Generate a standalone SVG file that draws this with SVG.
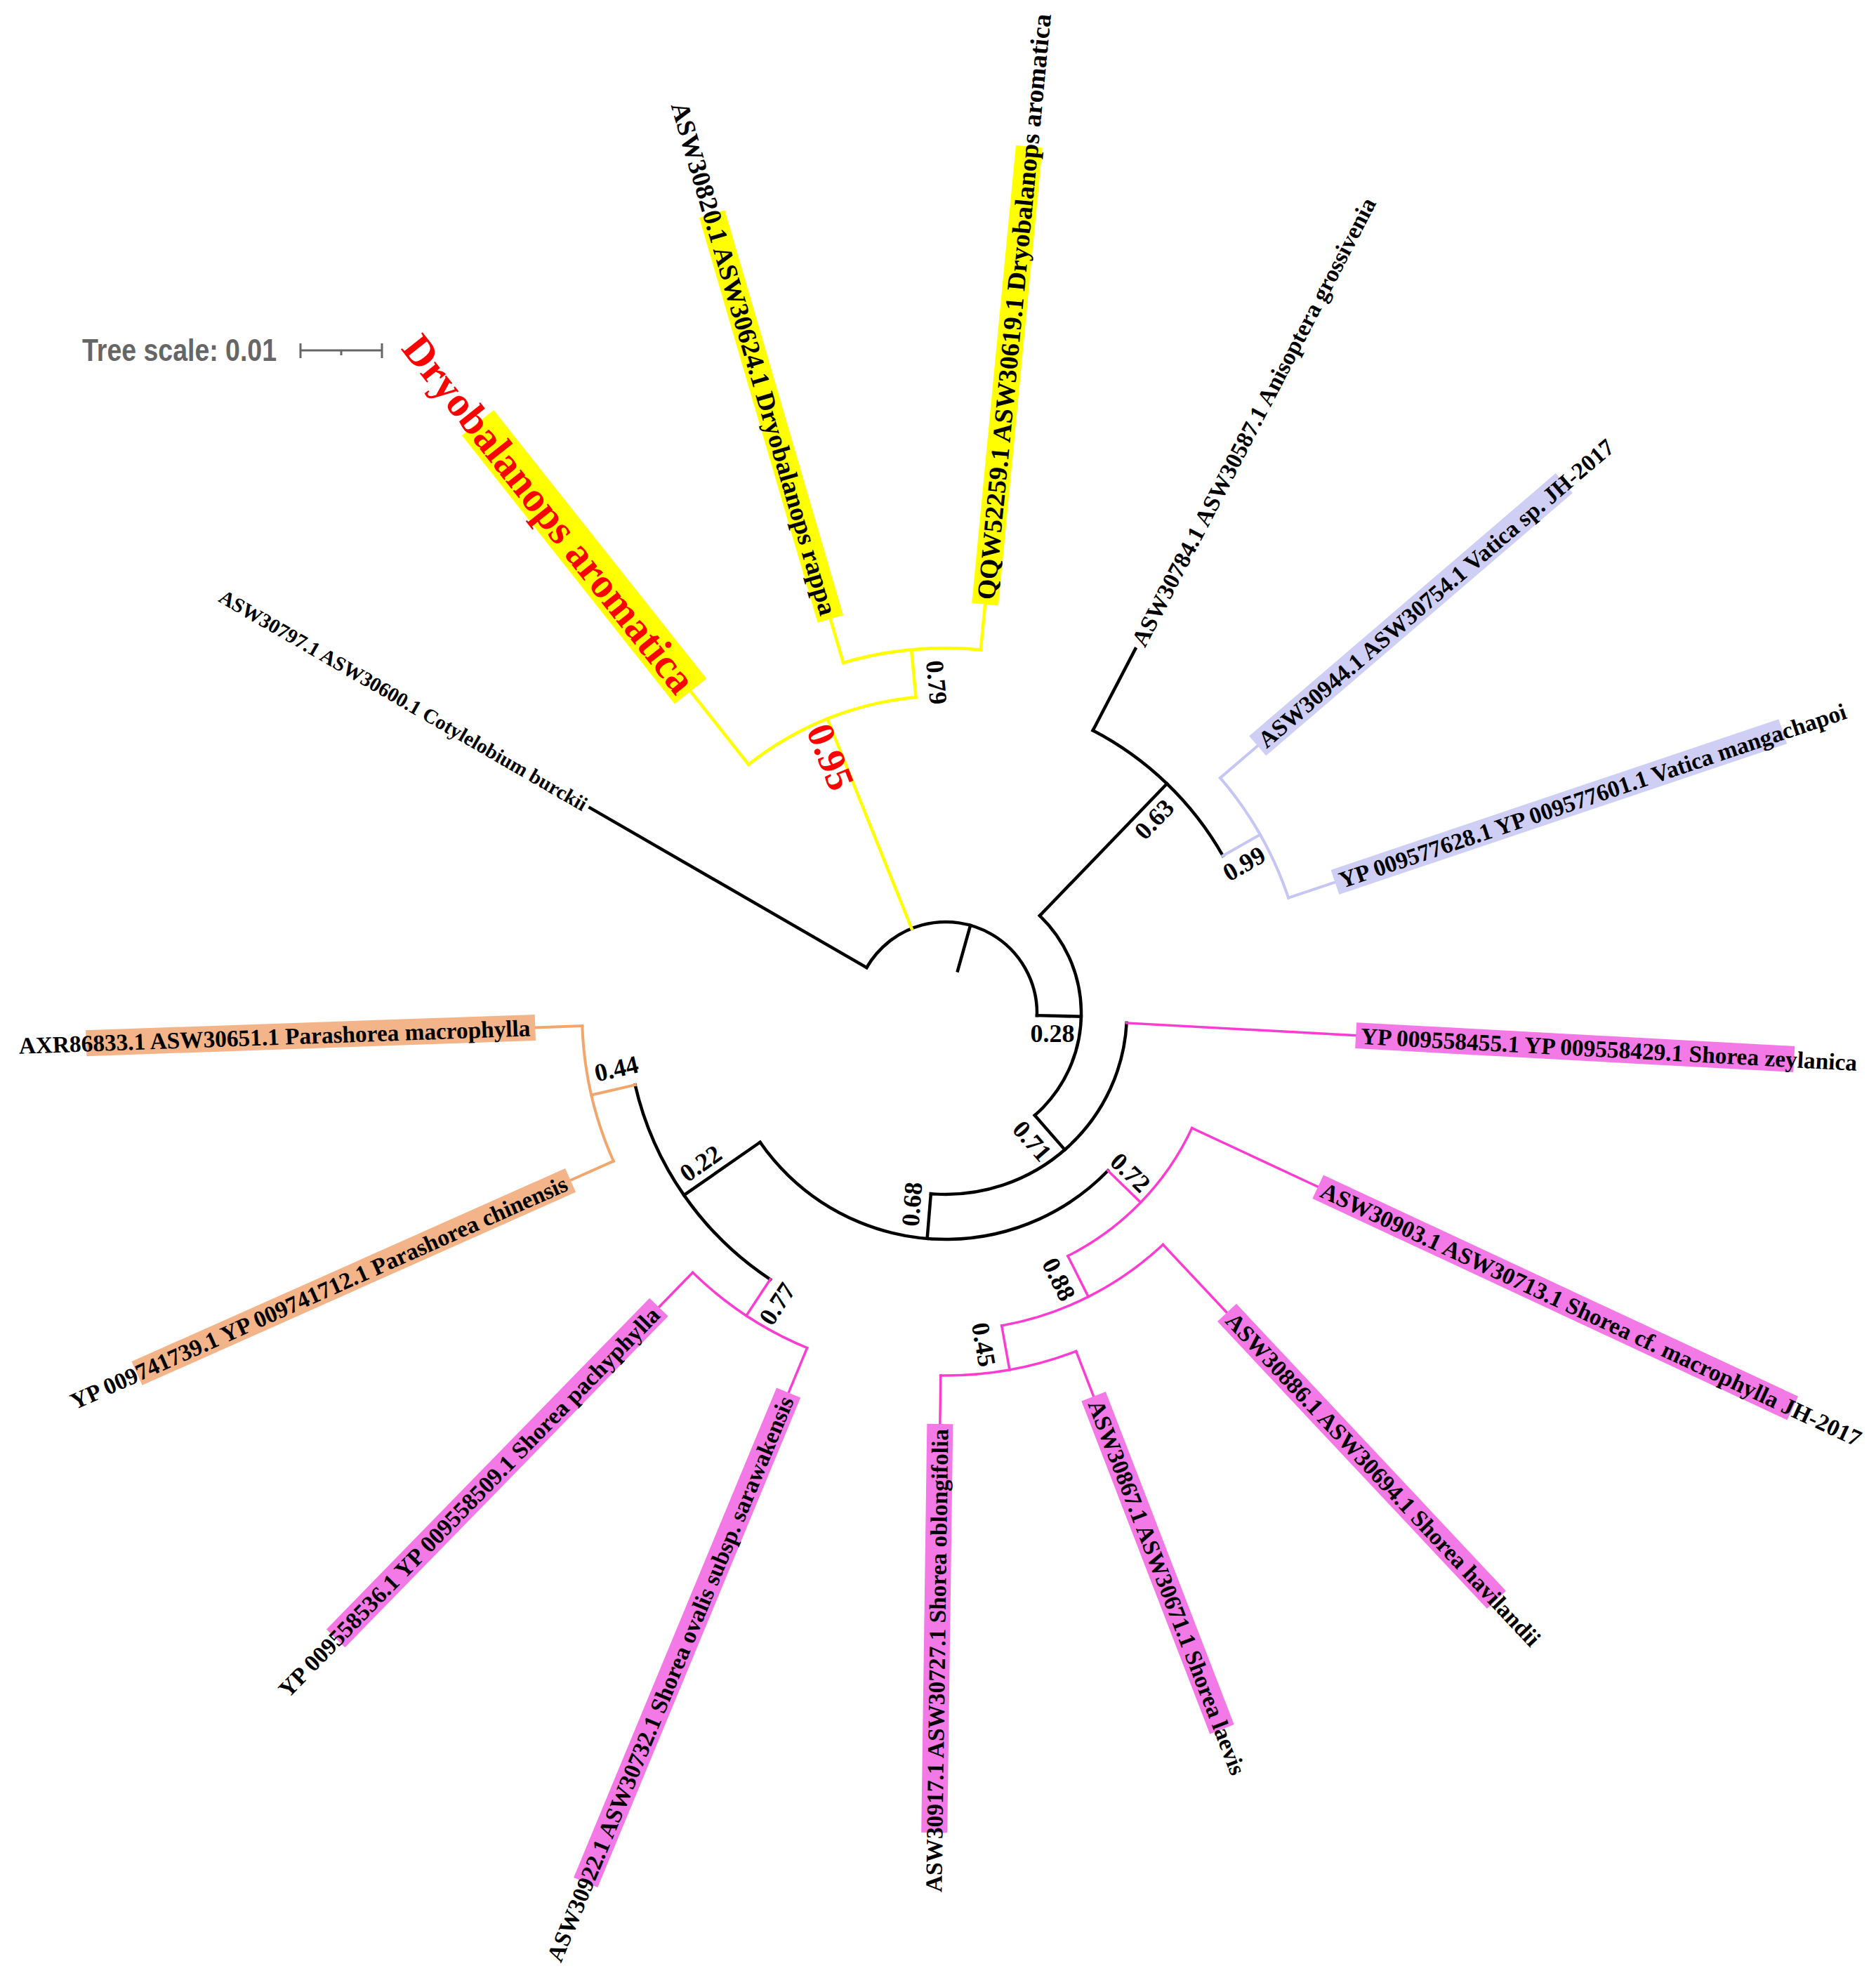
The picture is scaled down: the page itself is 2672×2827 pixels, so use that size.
<svg xmlns="http://www.w3.org/2000/svg" width="2672" height="2827" viewBox="0 0 2672 2827">
<style>
.b{stroke:#000;stroke-width:4.5;fill:none;stroke-linecap:square}
.y{stroke:#FFFF00;stroke-width:4.5;fill:none;stroke-linecap:square}
.p{stroke:#FF3CD2;stroke-width:3.5;fill:none;stroke-linecap:square}
.v{stroke:#C6C6F5;stroke-width:4;fill:none;stroke-linecap:square}
.o{stroke:#F2A66C;stroke-width:4;fill:none;stroke-linecap:square}
.hy{fill:#FFFF00}.hp{fill:#F37AE6}.hv{fill:#CFCFF5}.ho{fill:#F2B488}
.lab{font-family:"Liberation Serif","Times New Roman",serif;font-weight:bold;font-size:33.5px;fill:#000}
.bs{font-family:"Liberation Serif","Times New Roman",serif;font-weight:bold;font-size:36px;fill:#000;text-anchor:middle;dominant-baseline:central}
</style>
<rect width="2672" height="2827" fill="#fff"/>
<g id="connectors">
<line class="b" x1="1410" y1="1443" x2="1477" y2="1443" transform="rotate(285.7 1347 1443)"/>
<circle class="b" cx="1347" cy="1443" r="130" pathLength="360" stroke-dasharray="151.4 720" transform="rotate(210 1347 1443)"/>
<line class="b" x1="1477" y1="1443" x2="1932" y2="1443" transform="rotate(210 1347 1443)"/>
<line class="y" x1="1477" y1="1443" x2="1799" y2="1443" transform="rotate(248.1 1347 1443)"/>
<circle class="y" cx="1347" cy="1443" r="452" pathLength="360" stroke-dasharray="33 720" transform="rotate(231.6 1347 1443)"/>
<line class="y" x1="1799" y1="1443" x2="1932" y2="1443" transform="rotate(231.6 1347 1443)"/>
<line class="y" x1="1799" y1="1443" x2="1867" y2="1443" transform="rotate(264.6 1347 1443)"/>
<circle class="y" cx="1347" cy="1443" r="520" pathLength="360" stroke-dasharray="21.8 720" transform="rotate(253.7 1347 1443)"/>
<line class="y" x1="1867" y1="1443" x2="1932" y2="1443" transform="rotate(253.7 1347 1443)"/>
<line class="y" x1="1867" y1="1443" x2="1932" y2="1443" transform="rotate(275.5 1347 1443)"/>
<line class="b" x1="1477" y1="1443" x2="1540" y2="1443" transform="rotate(1.4 1347 1443)"/>
<circle class="b" cx="1347" cy="1443" r="193" pathLength="360" stroke-dasharray="94.95 720" transform="rotate(313.95 1347 1443)"/>
<line class="b" x1="1540" y1="1443" x2="1801" y2="1443" transform="rotate(313.95 1347 1443)"/>
<circle class="b" cx="1347" cy="1443" r="454" pathLength="360" stroke-dasharray="32.9 720" transform="rotate(297.5 1347 1443)"/>
<line class="b" x1="1801" y1="1443" x2="1932" y2="1443" transform="rotate(297.5 1347 1443)"/>
<line class="v" x1="1801" y1="1443" x2="1862" y2="1443" transform="rotate(330.4 1347 1443)"/>
<circle class="v" cx="1347" cy="1443" r="515" pathLength="360" stroke-dasharray="22 720" transform="rotate(319.4 1347 1443)"/>
<line class="v" x1="1862" y1="1443" x2="1932" y2="1443" transform="rotate(319.4 1347 1443)"/>
<line class="v" x1="1862" y1="1443" x2="1932" y2="1443" transform="rotate(341.4 1347 1443)"/>
<line class="b" x1="1540" y1="1443" x2="1605" y2="1443" transform="rotate(48.9 1347 1443)"/>
<circle class="b" cx="1347" cy="1443" r="258" pathLength="360" stroke-dasharray="91.6 720" transform="rotate(3.1 1347 1443)"/>
<line class="p" x1="1605" y1="1443" x2="1932" y2="1443" transform="rotate(3.1 1347 1443)"/>
<line class="b" x1="1605" y1="1443" x2="1669" y2="1443" transform="rotate(94.7 1347 1443)"/>
<circle class="b" cx="1347" cy="1443" r="322" pathLength="360" stroke-dasharray="101.05 720" transform="rotate(44.15 1347 1443)"/>
<line class="p" x1="1669" y1="1443" x2="1734" y2="1443" transform="rotate(44.15 1347 1443)"/>
<circle class="p" cx="1347" cy="1443" r="387" pathLength="360" stroke-dasharray="38.3 720" transform="rotate(25 1347 1443)"/>
<line class="p" x1="1734" y1="1443" x2="1932" y2="1443" transform="rotate(25 1347 1443)"/>
<line class="p" x1="1734" y1="1443" x2="1799" y2="1443" transform="rotate(63.3 1347 1443)"/>
<circle class="p" cx="1347" cy="1443" r="452" pathLength="360" stroke-dasharray="33.05 720" transform="rotate(46.8 1347 1443)"/>
<line class="p" x1="1799" y1="1443" x2="1932" y2="1443" transform="rotate(46.8 1347 1443)"/>
<line class="p" x1="1799" y1="1443" x2="1863" y2="1443" transform="rotate(79.85 1347 1443)"/>
<circle class="p" cx="1347" cy="1443" r="516" pathLength="360" stroke-dasharray="21.9 720" transform="rotate(68.9 1347 1443)"/>
<line class="p" x1="1863" y1="1443" x2="1932" y2="1443" transform="rotate(68.9 1347 1443)"/>
<line class="p" x1="1863" y1="1443" x2="1932" y2="1443" transform="rotate(90.8 1347 1443)"/>
<line class="b" x1="1669" y1="1443" x2="1801" y2="1443" transform="rotate(145.2 1347 1443)"/>
<circle class="b" cx="1347" cy="1443" r="454" pathLength="360" stroke-dasharray="43.6 720" transform="rotate(123.4 1347 1443)"/>
<line class="p" x1="1801" y1="1443" x2="1863" y2="1443" transform="rotate(123.4 1347 1443)"/>
<circle class="p" cx="1347" cy="1443" r="516" pathLength="360" stroke-dasharray="21.8 720" transform="rotate(112.5 1347 1443)"/>
<line class="p" x1="1863" y1="1443" x2="1932" y2="1443" transform="rotate(112.5 1347 1443)"/>
<line class="p" x1="1863" y1="1443" x2="1932" y2="1443" transform="rotate(134.3 1347 1443)"/>
<line class="o" x1="1801" y1="1443" x2="1865" y2="1443" transform="rotate(167 1347 1443)"/>
<circle class="o" cx="1347" cy="1443" r="518" pathLength="360" stroke-dasharray="22 720" transform="rotate(156 1347 1443)"/>
<line class="o" x1="1865" y1="1443" x2="1932" y2="1443" transform="rotate(156 1347 1443)"/>
<line class="o" x1="1865" y1="1443" x2="1932" y2="1443" transform="rotate(178 1347 1443)"/>
</g>
<g id="leaf-cotylelobium" transform="rotate(30 1347 1443)">
<text class="lab" x="155" y="1443" dy="0.35em" style="font-size:29px" textLength="600" lengthAdjust="spacingAndGlyphs">ASW30797.1 ASW30600.1 Cotylelobium burckii</text>
</g>
<g id="leaf-dryobalanops-aromatica-red" transform="rotate(51.6 1347 1443)">
<rect class="hy" x="274" y="1414" width="488" height="58"/>
<text class="lab" x="123" y="1443" dy="0.35em" style="font-size:60px;fill:#FF0000" textLength="632" lengthAdjust="spacingAndGlyphs">Dryobalanops aromatica</text>
</g>
<g id="leaf-rappa" transform="rotate(73.7 1347 1443)">
<rect class="hy" x="161" y="1424" width="601" height="38"/>
<text class="lab" x="-4" y="1443" dy="0.35em" style="font-size:37px" textLength="759" lengthAdjust="spacingAndGlyphs">ASW30820.1 ASW30624.1 Dryobalanops rappa</text>
</g>
<g id="leaf-qqw" transform="rotate(275.5 1347 1443)">
<rect class="hy" x="1932" y="1424" width="655" height="38"/>
<text class="lab" x="1939" y="1443" dy="0.35em" style="font-size:37px" textLength="838" lengthAdjust="spacingAndGlyphs">QQW52259.1 ASW30619.1 Dryobalanops aromatica</text>
</g>
<g id="leaf-anisoptera" transform="rotate(297.5 1347 1443)">
<text class="lab" x="1939" y="1443" dy="0.35em" textLength="715" lengthAdjust="spacingAndGlyphs">ASW30784.1 ASW30587.1 Anisoptera grossivenia</text>
</g>
<g id="leaf-vatica-sp" transform="rotate(319.4 1347 1443)">
<rect class="hv" x="1932" y="1424.5" width="575" height="37"/>
<text class="lab" x="1939" y="1443" dy="0.35em" textLength="655" lengthAdjust="spacingAndGlyphs">ASW30944.1 ASW30754.1 Vatica sp. JH-2017</text>
</g>
<g id="leaf-vatica-mangachapoi" transform="rotate(341.4 1347 1443)">
<rect class="hv" x="1932" y="1424.5" width="673" height="37"/>
<text class="lab" x="1939" y="1443" dy="0.35em" textLength="760" lengthAdjust="spacingAndGlyphs">YP 009577628.1 YP 009577601.1 Vatica mangachapoi</text>
</g>
<g id="leaf-zeylanica" transform="rotate(3.1 1347 1443)">
<rect class="hp" x="1932" y="1424.5" width="625" height="37"/>
<text class="lab" x="1939" y="1443" dy="0.35em" textLength="708" lengthAdjust="spacingAndGlyphs">YP 009558455.1 YP 009558429.1 Shorea zeylanica</text>
</g>
<g id="leaf-cf-macrophylla" transform="rotate(25 1347 1443)">
<rect class="hp" x="1932" y="1424.5" width="746" height="37"/>
<text class="lab" x="1939" y="1443" dy="0.35em" textLength="845" lengthAdjust="spacingAndGlyphs">ASW30903.1 ASW30713.1 Shorea cf. macrophylla JH-2017</text>
</g>
<g id="leaf-havilandii" transform="rotate(46.8 1347 1443)">
<rect class="hp" x="1932" y="1424.5" width="561" height="37"/>
<text class="lab" x="1939" y="1443" dy="0.35em" textLength="637" lengthAdjust="spacingAndGlyphs">ASW30886.1 ASW30694.1 Shorea havilandii</text>
</g>
<g id="leaf-laevis" transform="rotate(68.9 1347 1443)">
<rect class="hp" x="1932" y="1424.5" width="508" height="37"/>
<text class="lab" x="1939" y="1443" dy="0.35em" textLength="569" lengthAdjust="spacingAndGlyphs">ASW30867.1 ASW30671.1 Shorea laevis</text>
</g>
<g id="leaf-oblongifolia" transform="rotate(-89.2 1347 1443)">
<rect class="hp" x="180" y="1424.5" width="582" height="37"/>
<text class="lab" x="95" y="1443" dy="0.35em" textLength="660" lengthAdjust="spacingAndGlyphs">ASW30917.1 ASW30727.1 Shorea oblongifolia</text>
</g>
<g id="leaf-ovalis" transform="rotate(-67.5 1347 1443)">
<rect class="hp" x="7" y="1424.5" width="755" height="37"/>
<text class="lab" x="-113" y="1443" dy="0.35em" textLength="868" lengthAdjust="spacingAndGlyphs">ASW30922.1 ASW30732.1 Shorea ovalis subsp. sarawakensis</text>
</g>
<g id="leaf-pachyphylla" transform="rotate(-45.7 1347 1443)">
<rect class="hp" x="103" y="1424.5" width="659" height="37"/>
<text class="lab" x="-6" y="1443" dy="0.35em" textLength="761" lengthAdjust="spacingAndGlyphs">YP 009558536.1 YP 009558509.1 Shorea pachyphylla</text>
</g>
<g id="leaf-parashorea-chinensis" transform="rotate(-24 1347 1443)">
<rect class="ho" x="86" y="1424.5" width="676" height="37"/>
<text class="lab" x="-16" y="1443" dy="0.35em" textLength="771" lengthAdjust="spacingAndGlyphs">YP 009741739.1 YP 009741712.1 Parashorea chinensis</text>
</g>
<g id="leaf-parashorea-macrophylla" transform="rotate(-2 1347 1443)">
<rect class="ho" x="122" y="1424.5" width="640" height="37"/>
<text class="lab" x="26" y="1443" dy="0.35em" textLength="729" lengthAdjust="spacingAndGlyphs">AXR86833.1 ASW30651.1 Parashorea macrophylla</text>
</g>
<g id="node-095"><text class="bs" transform="translate(1183 1078) rotate(68.1)" style="font-size:55px;fill:#FF0000">0.95</text></g>
<g id="node-079"><text class="bs" transform="translate(1334 972) rotate(84.6)">0.79</text></g>
<g id="node-028"><text class="bs" transform="translate(1499 1472)">0.28</text></g>
<g id="node-071"><text class="bs" transform="translate(1470 1625) rotate(48.9)">0.71</text></g>
<g id="node-068"><text class="bs" transform="translate(1299 1715) rotate(-85.3)">0.68</text></g>
<g id="node-072"><text class="bs" transform="translate(1610 1670) rotate(44.15)">0.72</text></g>
<g id="node-088"><text class="bs" transform="translate(1508 1822) rotate(63.3)">0.88</text></g>
<g id="node-045"><text class="bs" transform="translate(1401 1915) rotate(79.85)">0.45</text></g>
<g id="node-063"><text class="bs" transform="translate(1644 1167) rotate(-46)">0.63</text></g>
<g id="node-099"><text class="bs" transform="translate(1772 1230) rotate(-30)">0.99</text></g>
<g id="node-022"><text class="bs" transform="translate(998 1657) rotate(-34.8)">0.22</text></g>
<g id="node-044"><text class="bs" transform="translate(878 1522) rotate(-13)">0.44</text></g>
<g id="node-077"><text class="bs" transform="translate(1107 1857) rotate(-56.6)">0.77</text></g>
<g id="tree-scale">
<text x="117" y="514" style="font-family:'Liberation Sans',Arial,sans-serif;font-weight:bold;font-size:44px;fill:#666" textLength="277" lengthAdjust="spacingAndGlyphs">Tree scale: 0.01</text>
<g stroke="#666" stroke-width="3" fill="none">
<line x1="428" y1="499" x2="544" y2="499"/>
<line x1="428" y1="489" x2="428" y2="510"/>
<line x1="544" y1="489" x2="544" y2="510"/>
<line x1="486" y1="499" x2="486" y2="506"/>
</g>
</g>
</svg>
